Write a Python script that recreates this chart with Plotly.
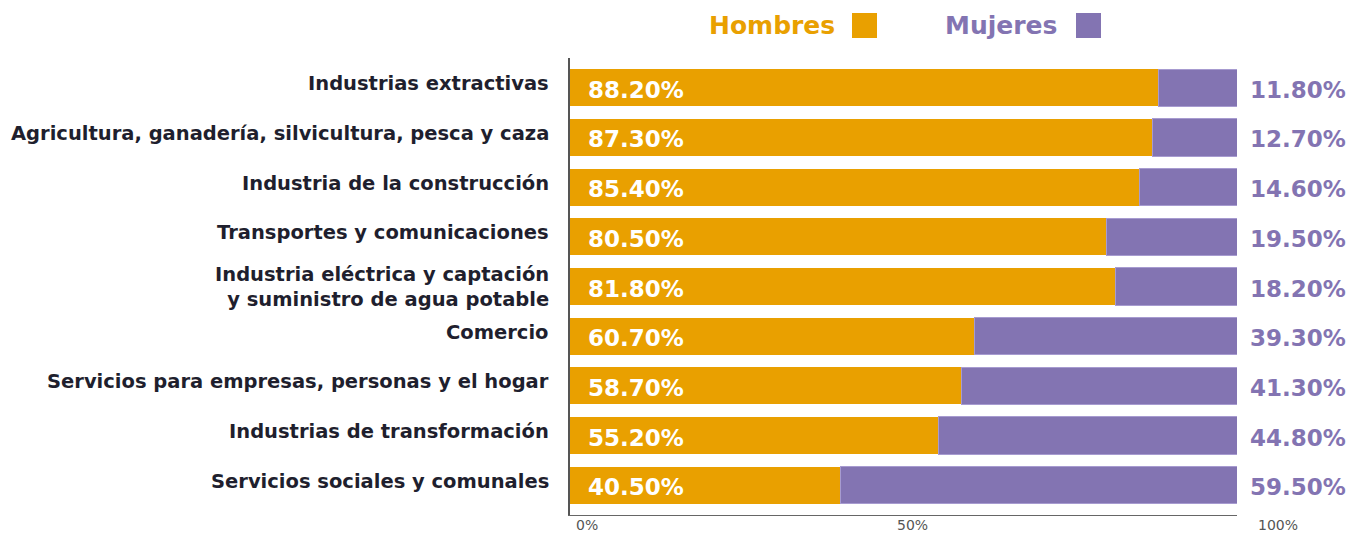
import plotly.graph_objects as go

categories = [
    "Industrias extractivas",
    "Agricultura, ganadería, silvicultura, pesca y caza",
    "Industria de la construcción",
    "Transportes y comunicaciones",
    "Industria eléctrica y captación<br>y suministro de agua potable",
    "Comercio",
    "Servicios para empresas, personas y el hogar",
    "Industrias de transformación",
    "Servicios sociales y comunales",
]
hombres = [88.2, 87.3, 85.4, 80.5, 81.8, 60.7, 58.7, 55.2, 40.5]
mujeres = [11.8, 12.7, 14.6, 19.5, 18.2, 39.3, 41.3, 44.8, 59.5]
tick_labels = ["0%", "50%", "100%"]
tick_label_px = [587, 912, 1278]

C_H = "#E9A000"
C_M = "#8374B2"
FONT = "DejaVu Sans"

W, H = 1351, 535
ML, MR, MT, MB = 570, 114, 58, 20
def px_x(p):
    return (p - ML) / (W - ML - MR)
def px_y(p):
    return (H - MB - p) / (H - MT - MB)

fig = go.Figure()
fig.add_trace(go.Bar(y=categories, x=hombres, orientation="h", name="Hombres",
                     marker=dict(color=C_H, line=dict(width=0)), hoverinfo="x"))
fig.add_trace(go.Bar(y=categories, x=mujeres, orientation="h", name="Mujeres",
                     marker=dict(color=C_M, line=dict(color="#A79BD0", width=1)), hoverinfo="x"))

ann = []
for c, h, m in zip(categories, hombres, mujeres):
    ann.append(dict(x=0, y=c, xref="x", yref="y", text=f"<b>{c}</b>", showarrow=False,
                    xanchor="right", align="right", xshift=-19,
                    yshift=0 if "<br>" in c else 4,
                    font=dict(family=FONT, size=19.5, color="#1F1F2E")))
    ann.append(dict(x=0, y=c, xref="x", yref="y", text=f"<b>{h:.2f}%</b>", showarrow=False,
                    xanchor="left", xshift=16, yshift=-2,
                    font=dict(family=FONT, size=23, color="white")))
    ann.append(dict(x=100, y=c, xref="x", yref="y", text=f"<b>{m:.2f}%</b>", showarrow=False,
                    xanchor="left", xshift=11, yshift=-2,
                    font=dict(family=FONT, size=23, color=C_M)))
for t, p in zip(tick_labels, tick_label_px):
    ann.append(dict(x=px_x(p), y=0, xref="paper", yref="paper", text=t, showarrow=False,
                    xanchor="center", yanchor="top", yshift=0,
                    font=dict(family=FONT, size=14, color="#555555")))
# legend (text before swatch)
ann.append(dict(x=px_x(707), y=1, xref="paper", yref="paper", text="<b>Hombres</b>", showarrow=False,
                xanchor="left", yanchor="bottom", yshift=16,
                font=dict(family=FONT, size=25, color=C_H)))
ann.append(dict(x=px_x(943), y=1, xref="paper", yref="paper", text="<b>Mujeres</b>", showarrow=False,
                xanchor="left", yanchor="bottom", yshift=16,
                font=dict(family=FONT, size=25, color=C_M)))

fig.update_layout(
    barmode="stack",
    bargap=0.25,
    width=W, height=H,
    margin=dict(l=ML, r=MR, t=MT, b=MB),
    paper_bgcolor="white", plot_bgcolor="white",
    showlegend=False,
    annotations=ann,
    font=dict(family=FONT),
    xaxis=dict(range=[0, 100], showticklabels=False, showgrid=False, zeroline=False,
               showline=True, linecolor="#666666", linewidth=1, ticks=""),
    yaxis=dict(range=[8.6, -0.6], showgrid=False, zeroline=False, showline=True,
               linecolor="#555555", linewidth=2, ticks="", showticklabels=False),
    shapes=[
        dict(type="rect", xref="paper", yref="paper", x0=px_x(852), x1=px_x(877), y0=px_y(38), y1=px_y(13),
             fillcolor=C_H, line=dict(width=0)),
        dict(type="rect", xref="paper", yref="paper", x0=px_x(1076), x1=px_x(1101), y0=px_y(38), y1=px_y(13),
             fillcolor=C_M, line=dict(width=0)),
    ],
)

fig.write_html("out.html", config={"displayModeBar": False},
               post_script="document.body.style.margin='0';document.body.style.padding='0';")
